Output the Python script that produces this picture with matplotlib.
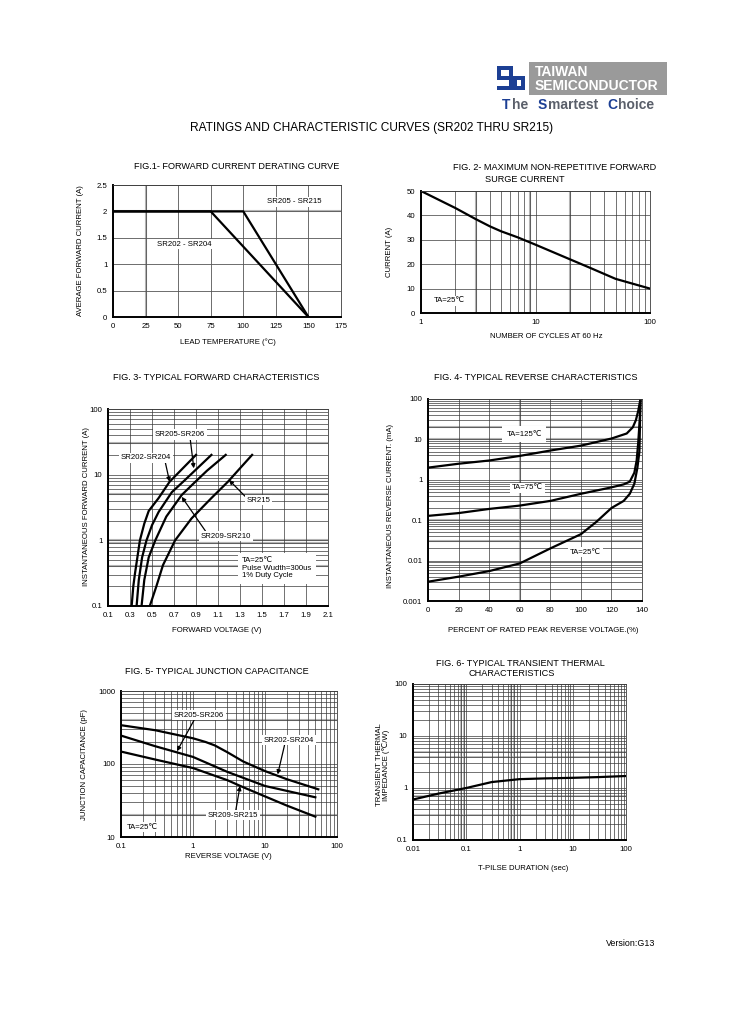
import matplotlib
matplotlib.use('Agg')
import matplotlib.pyplot as plt
from matplotlib.patches import Rectangle
from matplotlib.ticker import LogLocator, NullFormatter

plt.rcParams['font.family'] = ['Liberation Sans', 'DejaVu Sans']

W, H = 729, 1032

#%% data
# fig 1 derating
f1_temp_a = [0, 75, 150]
f1_amp_a = [2.0, 2.0, 0.0]
f1_temp_b = [0, 100, 150]
f1_amp_b = [2.0, 2.0, 0.0]

# fig 2 surge
f2_cycles = [1, 2, 3, 4, 5, 7, 10, 20, 30, 50, 100]
f2_amp = [50, 43, 38.5, 35.5, 33.5, 31, 28, 22, 18.5, 14, 10]

# fig 3 forward characteristics
f3_v_202 = [0.315, 0.33, 0.345, 0.39, 0.43, 0.47, 0.56, 0.66, 0.90]
f3_i_202 = [0.1, 0.2, 0.31, 1.0, 1.8, 2.8, 4.4, 7.8, 20]
f3_v_205 = [0.36, 0.38, 0.41, 0.45, 0.50, 0.56, 0.68, 0.80, 1.04]
f3_i_205 = [0.1, 0.25, 0.55, 1.0, 1.7, 2.7, 5.4, 8.3, 20]
f3_v_209 = [0.405, 0.43, 0.47, 0.53, 0.63, 0.77, 0.88, 1.00, 1.17]
f3_i_209 = [0.1, 0.25, 0.55, 1.0, 2.3, 4.9, 7.4, 11.5, 20]
f3_v_215 = [0.48, 0.54, 0.60, 0.71, 0.86, 1.04, 1.19, 1.30, 1.41]
f3_i_215 = [0.1, 0.2, 0.42, 1.0, 2.16, 4.4, 7.8, 12.5, 20]

# fig 4 reverse characteristics
f4_pct_125 = [0, 20, 40, 60, 80, 100, 120, 130, 134, 136, 137.5, 139]
f4_ma_125 = [2.0, 2.5, 3.0, 3.9, 5.3, 7.0, 10.5, 14, 20, 30, 50, 100]
f4_pct_75 = [0, 20, 40, 60, 80, 100, 120, 128, 132, 135, 136.5, 137.5, 138.5, 139]
f4_ma_75 = [0.128, 0.15, 0.19, 0.23, 0.30, 0.45, 0.65, 0.77, 0.9, 1.5, 3, 8, 30, 100]
f4_pct_25 = [0, 20, 40, 60, 80, 100, 110, 120, 128, 132, 135, 137, 138.3, 139]
f4_ma_25 = [0.003, 0.004, 0.0055, 0.0085, 0.02, 0.045, 0.09, 0.2, 0.3, 0.45, 0.8, 2, 5, 100]

# fig 5 junction capacitance
f5_v_202 = [0.1, 0.3, 1.0, 1.5, 2, 3, 5, 10, 20, 55]
f5_c_202 = [340, 290, 225, 200, 180, 145, 108, 80, 62, 45]
f5_v_205 = [0.1, 0.3, 1, 3, 10, 50]
f5_c_205 = [245, 175, 125, 78, 50, 35]
f5_v_209 = [0.1, 0.3, 1, 3, 5, 10, 20, 50]
f5_c_209 = [148, 115, 88, 60, 48, 36, 27, 19]

# fig 6 transient thermal
f6_t = [0.01, 0.03, 0.1, 0.3, 1, 3, 10, 30, 100]
f6_z = [0.6, 0.78, 1.0, 1.3, 1.48, 1.53, 1.57, 1.62, 1.7]

#%% helpers
fig = plt.figure(figsize=(W/100, H/100), dpi=100)

TFS = 6.6   # figure titles
LFS = 5.6   # axis labels
KFS = 5.6   # tick labels
AFS = 5.6   # annotations
GRID = '#3a3a3a'
LGRAY = '#b4b4b4'


def ft(x, y, s, **kw):
    kw.setdefault('ha', 'center')
    kw.setdefault('va', 'center')
    return fig.text(x/W, 1-y/H, s, **kw)


def mkax(x0, y0, x1, y1):
    ax = fig.add_axes([x0/W, 1-y1/H, (x1-x0)/W, (y1-y0)/H])
    ax.tick_params(which='both', length=0, labelsize=KFS, pad=4)
    for s in ['top', 'right']:
        ax.spines[s].set_linewidth(0.6)
        ax.spines[s].set_color(GRID)
    for s in ['left', 'bottom']:
        ax.spines[s].set_linewidth(1.4)
    ax.set_axisbelow(True)
    return ax


def loggrid(ax, axis):
    a = ax.xaxis if axis == 'x' else ax.yaxis
    a.set_minor_locator(LogLocator(base=10, subs=range(2, 10)))
    a.set_minor_formatter(NullFormatter())


def arw(rel):
    return dict(arrowstyle='-|>', color='k', lw=0.9, mutation_scale=6,
                shrinkA=0, shrinkB=0, relpos=rel)


lbox = dict(facecolor='white', edgecolor='none', pad=1.2)

#%% page header
ft(372, 128, 'RATINGS AND CHARACTERISTIC CURVES (SR202 THRU SR215)', fontsize=8.6)
ft(655, 944, 'Version:G13', fontsize=6.4, ha='right')

# logo
blue = '#1c3f94'
lax = fig.add_axes([0, 0, 1, 1], zorder=-1)
lax.set_xlim(0, W); lax.set_ylim(H, 0); lax.axis('off')
# stylised "S" mark built from bars
for (x, y, w, h) in [(497, 66, 14, 4), (497, 66, 4, 13), (497, 76, 28, 4),
                     (521, 77, 4, 13), (497, 86, 28, 4), (509, 66, 4, 24),
                     (513, 80, 4, 6)]:
    lax.add_patch(Rectangle((x, y), w, h, facecolor=blue, edgecolor='none'))
lax.add_patch(Rectangle((529, 62), 138, 33, facecolor='#9a9a9a', edgecolor='none'))
lax.text(535, 71.5, 'TAIWAN', color='white', fontsize=10, fontweight='bold', va='center')
lax.text(535, 86, 'SEMICONDUCTOR', color='white', fontsize=10, fontweight='bold', va='center')
for x, s, c in [(502, 'T', blue), (512, 'he', '#5a5f6a'), (538, 'S', blue),
                (548, 'martest', '#5a5f6a'), (607, 'C', blue), (618, 'hoice', '#5a5f6a')]:
    lax.text(x, 105, s, color=c, fontsize=10, fontweight='bold', va='center')

#%% FIG 1
ax = mkax(113, 185, 341, 317)
ax.plot(f1_temp_a, f1_amp_a, 'k', lw=1.6, solid_joinstyle='miter')
ax.plot(f1_temp_b, f1_amp_b, 'k', lw=1.6, solid_joinstyle='miter')
ax.set_xlim(0, 175); ax.set_ylim(0, 2.5)
ax.set_xticks(range(0, 176, 25))
ax.set_yticks([0, 0.5, 1, 1.5, 2, 2.5], labels=['0', '0.5', '1', '1.5', '2', '2.5'])
ax.grid(True, color='#555555', lw=0.6)
ax.axvline(25, color=LGRAY, lw=1.5, zorder=0.5)
ax.axhline(2, color=LGRAY, lw=1.5, zorder=0.5)
ax.text(139, 2.18, 'SR205 - SR215', fontsize=AFS, ha='center', va='center', bbox=lbox)
ax.text(55, 1.38, 'SR202 - SR204', fontsize=AFS, ha='center', va='center', bbox=lbox)
ft(237, 166, 'FIG.1- FORWARD CURRENT DERATING CURVE', fontsize=TFS)
ft(228, 342, 'LEAD TEMPERATURE (°C)', fontsize=LFS)
ft(81, 251, 'AVERAGE FORWARD CURRENT (A)', fontsize=LFS, rotation=90)

#%% FIG 2
ax = mkax(421, 191, 650, 313)
ax.plot(f2_cycles, f2_amp, 'k', lw=1.6)
ax.set_xscale('log'); loggrid(ax, 'x')
ax.set_xlim(1, 100); ax.set_ylim(0, 50)
ax.set_xticks([1, 10, 100], labels=['1', '10', '100'])
ax.set_yticks(range(0, 51, 10))
ax.grid(True, which='both', color=GRID, lw=0.5)
for xv in [3, 9, 20]:
    ax.axvline(xv, color=LGRAY, lw=1.5, zorder=0.5)
ax.text(1.3, 5, 'TA=25℃', fontsize=AFS, ha='left', va='center', bbox=lbox)
ft(555, 167, 'FIG. 2- MAXIMUM NON-REPETITIVE FORWARD', fontsize=TFS)
ft(525, 179, 'SURGE CURRENT', fontsize=TFS)
ft(546, 337, 'NUMBER OF CYCLES AT 60 Hz', fontsize=LFS)
ft(389, 252, 'CURRENT (A)', fontsize=LFS, rotation=90)

#%% FIG 3
ax = mkax(108, 409, 328, 606)
for v, i in [(f3_v_202, f3_i_202), (f3_v_205, f3_i_205), (f3_v_209, f3_i_209), (f3_v_215, f3_i_215)]:
    ax.plot(v, i, 'k', lw=1.6)
ax.set_yscale('log'); loggrid(ax, 'y')
ax.set_xlim(0.1, 2.1); ax.set_ylim(0.1, 100)
xt = [0.1 + 0.2*k for k in range(11)]
ax.set_xticks(xt, labels=['%.1f' % t for t in xt])
ax.set_yticks([0.1, 1, 10, 100], labels=['0.1', '1', '10', '100'])
ax.grid(True, which='both', color=GRID, lw=0.5)
for yv in [0.4, 0.9, 1, 5, 30]:
    ax.axhline(yv, color=LGRAY, lw=1.5, zorder=0.5)
ax.annotate('SR205-SR206', xy=(0.88, 12.5), xytext=(0.755, 41), fontsize=AFS, ha='center', va='center',
            bbox=lbox, arrowprops=arw((0.7, 0)))
ax.annotate('SR202-SR204', xy=(0.66, 7.8), xytext=(0.445, 18), fontsize=AFS, ha='center', va='center',
            bbox=lbox, arrowprops=arw((0.88, 0)))
ax.annotate('SR215', xy=(1.2, 8.3), xytext=(1.47, 4.1), fontsize=AFS, ha='center', va='center',
            bbox=lbox, arrowprops=arw((0, 0.8)))
ax.annotate('SR209-SR210', xy=(0.77, 4.6), xytext=(1.17, 1.16), fontsize=AFS, ha='center', va='center',
            bbox=lbox, arrowprops=arw((0.12, 1)))
ax.text(1.32, 0.56, 'TA=25℃\nPulse Wudth=300us\n1% Duty Cycle', fontsize=AFS, ha='left', va='top',
        linespacing=1.15, bbox=dict(facecolor='white', edgecolor='none', pad=3))
ft(216, 378, 'FIG. 3- TYPICAL FORWARD CHARACTERISTICS', fontsize=TFS)
ft(217, 631, 'FORWARD VOLTAGE (V)', fontsize=LFS)
ft(86, 506, 'INSTANTANEOUS FORWARD CURRENT (A)', fontsize=LFS, rotation=90)

#%% FIG 4
ax = mkax(428, 399, 642, 601)
for p, m in [(f4_pct_125, f4_ma_125), (f4_pct_75, f4_ma_75), (f4_pct_25, f4_ma_25)]:
    ax.plot(p, m, 'k', lw=1.6)
ax.set_yscale('log'); loggrid(ax, 'y')
ax.set_xlim(0, 140); ax.set_ylim(0.001, 100)
ax.set_xticks(range(0, 141, 20))
ax.set_yticks([0.001, 0.01, 0.1, 1, 10, 100], labels=['0.001', '0.01', '0.1', '1', '10', '100'])
ax.grid(True, which='both', color=GRID, lw=0.5)
ax.axvline(60, color=LGRAY, lw=1.5, zorder=0.5)
for yv in [0.03, 0.1, 10, 20]:
    ax.axhline(yv, color=LGRAY, lw=1.5, zorder=0.5)
ax.text(63, 13.6, 'TA=125℃', fontsize=AFS, ha='center', va='center',
        bbox=dict(facecolor='white', edgecolor='none', pad=3))
ax.text(65, 0.63, 'TA=75℃', fontsize=AFS, ha='center', va='center', bbox=lbox)
ax.text(103, 0.0163, 'TA=25℃', fontsize=AFS, ha='center', va='center', bbox=lbox)
ft(536, 378, 'FIG. 4- TYPICAL REVERSE CHARACTERISTICS', fontsize=TFS)
ft(543, 631, 'PERCENT OF RATED PEAK REVERSE VOLTAGE.(%)', fontsize=LFS)
ft(390, 506, 'INSTANTANEOUS REVERSE CURRENT. (mA)', fontsize=LFS, rotation=90)

#%% FIG 5
ax = mkax(121, 691, 337, 837)
for v, c in [(f5_v_202, f5_c_202), (f5_v_205, f5_c_205), (f5_v_209, f5_c_209)]:
    ax.plot(v, c, 'k', lw=1.6)
ax.set_xscale('log'); ax.set_yscale('log')
loggrid(ax, 'x'); loggrid(ax, 'y')
ax.set_xlim(0.1, 100); ax.set_ylim(10, 1000)
ax.set_xticks([0.1, 1, 10, 100], labels=['0.1', '1', '10', '100'])
ax.set_yticks([10, 100, 1000], labels=['10', '100', '1000'])
ax.grid(True, which='both', color=GRID, lw=0.5)
for yv in [20, 400]:
    ax.axhline(yv, color=LGRAY, lw=1.5, zorder=0.5)
ax.annotate('SR205-SR206', xy=(0.6, 150), xytext=(1.21, 469), fontsize=AFS, ha='center', va='center',
            bbox=lbox, arrowprops=arw((0.42, 0)))
ax.annotate('SR202-SR204', xy=(15, 72), xytext=(21.5, 213), fontsize=AFS, ha='center', va='center',
            bbox=lbox, arrowprops=arw((0.42, 0)))
ax.annotate('SR209-SR215', xy=(4.5, 50), xytext=(3.6, 20), fontsize=AFS, ha='center', va='center',
            bbox=lbox, arrowprops=arw((0.55, 1)))
ax.text(0.2, 13.7, 'TA=25℃', fontsize=AFS, ha='center', va='center', bbox=lbox)
ft(217, 671, 'FIG. 5- TYPICAL JUNCTION CAPACITANCE', fontsize=TFS)
ft(228, 857, 'REVERSE VOLTAGE (V)', fontsize=LFS)
ft(85, 765, 'JUNCTION CAPACITANCE (pF)', fontsize=LFS, rotation=90)

#%% FIG 6
ax = mkax(413, 684, 626, 840)
ax.plot(f6_t, f6_z, 'k', lw=1.6)
ax.set_xscale('log'); ax.set_yscale('log')
loggrid(ax, 'x'); loggrid(ax, 'y')
ax.set_xlim(0.01, 100); ax.set_ylim(0.1, 100)
ax.set_xticks([0.01, 0.1, 1, 10, 100], labels=['0.01', '0.1', '1', '10', '100'])
ax.set_yticks([0.1, 1, 10, 100], labels=['0.1', '1', '10', '100'])
ax.grid(True, which='both', color=GRID, lw=0.5)
for xv in [0.08, 0.09, 0.7, 0.8]:
    ax.axvline(xv, color=LGRAY, lw=1.2, zorder=0.5)
for yv in [0.3, 0.7, 4, 5]:
    ax.axhline(yv, color=LGRAY, lw=1.2, zorder=0.5)
ft(520, 663, 'FIG. 6- TYPICAL TRANSIENT THERMAL', fontsize=TFS)
ft(512, 674, 'CHARACTERISTICS', fontsize=TFS)
ft(523, 868, 'T-PILSE DURATION (sec)', fontsize=LFS)
ft(383, 765, 'TRANSIENT THERMAL\nIMPEDANCE (℃/W)', fontsize=LFS, rotation=90, linespacing=1.0)

fig.savefig('out.png', dpi=100)
